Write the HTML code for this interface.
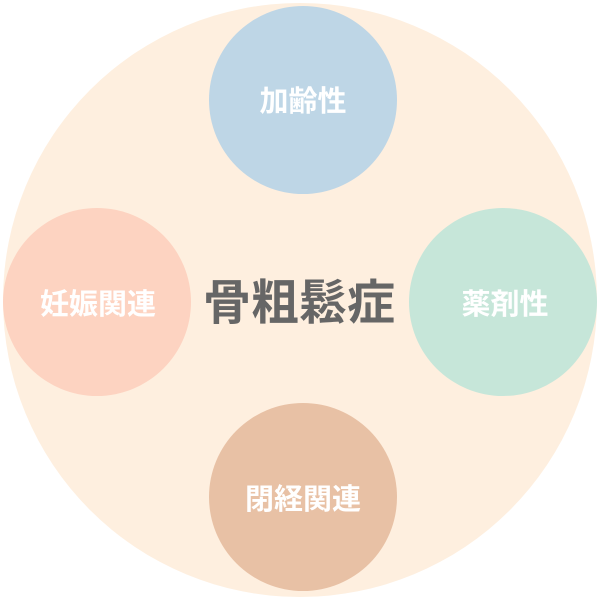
<!DOCTYPE html>
<html><head><meta charset="utf-8"><style>
body{margin:0;width:600px;height:600px;background:#fff;overflow:hidden}
</style></head><body>
<svg width="600" height="600" xmlns="http://www.w3.org/2000/svg" font-family="'Liberation Sans','Noto Sans CJK JP',sans-serif" font-weight="bold">
<circle cx="300" cy="300" r="297" fill="#feefdf"/>
<circle cx="303" cy="100" r="94" fill="#bed6e6"/>
<circle cx="503" cy="302" r="94" fill="#c6e6d9"/>
<circle cx="97" cy="302" r="94" fill="#fdd3c1"/>
<circle cx="303" cy="497" r="94" fill="#e8c1a5"/>
<text x="299" y="319" font-size="48" fill="#666" text-anchor="middle">骨粗鬆症</text>
<g font-size="29" fill="#fff" text-anchor="middle">
<text x="303" y="111">加齢性</text>
<text x="505" y="314">薬剤性</text>
<text x="98" y="314">妊娠関連</text>
<text x="303" y="509">閉経関連</text>
</g>
</svg>
</body></html>
